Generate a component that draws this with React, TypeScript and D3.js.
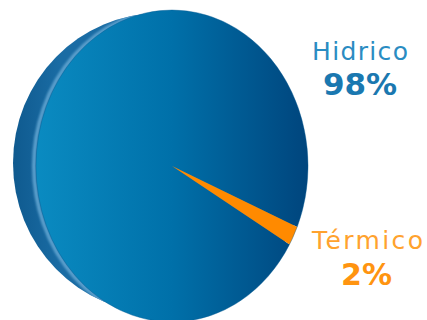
import React from "react";
import * as d3 from "d3";

const categories = ["Hidrico", "Térmico"];
const values = [98, 2];
const percentLabels = ["98%", "2%"];

const W = 427;
const H = 320;
const cx = 172;
const cy = 166;
const R = 156;
const sx = 0.872;

export default function App() {
  const pie = d3
    .pie<number>()
    .sort(null)
    .startAngle((120.2 * Math.PI) / 180)
    .endAngle((120.2 * Math.PI) / 180 + 2 * Math.PI);
  const arcs = pie(values);
  const arc = d3.arc<d3.PieArcDatum<number>>().innerRadius(0).outerRadius(R);
  const sliceFills = ["url(#faceGrad)", "#ff8a00"];

  return (
    <div style={{ position: "absolute", left: 0, top: 0 }}>
      <svg width={W} height={H} style={{ display: "block" }}>
        <defs>
          <linearGradient id="faceGrad" gradientUnits="userSpaceOnUse" x1={-R} x2={R} y1={0} y2={0}>
            <stop offset="0" stopColor="#0a8bc1" />
            <stop offset="0.5" stopColor="#0070a9" />
            <stop offset="1" stopColor="#00457d" />
          </linearGradient>
          <linearGradient id="sideGrad" gradientUnits="userSpaceOnUse" x1={13} x2={60} y1={0} y2={0}>
            <stop offset="0" stopColor="#0f5a8f" />
            <stop offset="1" stopColor="#1a6ca4" />
          </linearGradient>
          <clipPath id="sideClip">
            <ellipse cx={160} cy={163} rx={147} ry={150} />
          </clipPath>
          <filter id="soft" x="-10%" y="-10%" width="120%" height="120%">
            <feGaussianBlur stdDeviation="1.2" />
          </filter>
        </defs>
        <ellipse cx={160} cy={163} rx={147} ry={150} fill="url(#sideGrad)" />
        <g clipPath="url(#sideClip)">
          <ellipse
            cx={cx - 1}
            cy={cy}
            rx={R * sx + 1}
            ry={R}
            fill="none"
            stroke="#5a9fcc"
            strokeWidth={4}
            filter="url(#soft)"
          />
        </g>
        <g transform={`translate(${cx},${cy}) scale(${sx},1)`}>
          {arcs.map((a, i) => (
            <path key={categories[i]} d={arc(a) || ""} fill={sliceFills[i]} />
          ))}
        </g>
        <ellipse cx={cx} cy={cy} rx={R * sx} ry={R} fill="none" stroke="#0a5d94" strokeWidth={0.8} opacity={0.5} />
        <g fontFamily="DejaVu Sans, Verdana, sans-serif" textAnchor="middle">
          <text x={360} y={60} fontSize={25} fill="#2a8cc2" textLength={96} lengthAdjust="spacing">
            {categories[0]}
          </text>
          <text x={360} y={95} fontSize={31} fontWeight="bold" fill="#1a78b0">
            {percentLabels[0]}
          </text>
          <text x={367.5} y={249} fontSize={25} fill="#ffa22e" textLength={111} lengthAdjust="spacing">
            {categories[1]}
          </text>
          <text x={366.5} y={285} fontSize={30} fontWeight="bold" fill="#ff9410">
            {percentLabels[1]}
          </text>
        </g>
      </svg>
    </div>
  );
}
